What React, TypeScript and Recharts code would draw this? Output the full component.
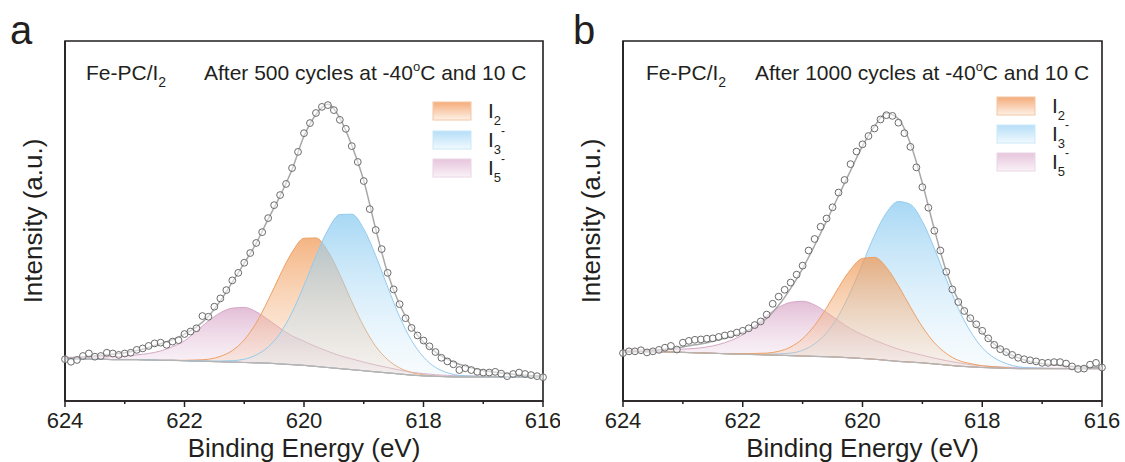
import React from "react";
import { Area, ComposedChart, Line, ReferenceArea, Scatter, XAxis, YAxis } from "recharts";

// binding energy grid of the fitted curves (eV)
const energyFit = [
  624, 623.8, 623.6, 623.4, 623.2, 623, 622.8, 622.6, 622.4, 622.2, 622, 621.8, 621.6, 621.4,
  621.2, 621, 620.8, 620.6, 620.4, 620.2, 620, 619.8, 619.6, 619.4, 619.2, 619, 618.8, 618.6,
  618.4, 618.2, 618, 617.8, 617.6, 617.4, 617.2, 617, 616.8, 616.6, 616.4, 616.2, 616,
];

// binding energy of the measured points (eV)
const energyScan = [
  624, 623.9, 623.8, 623.7, 623.6, 623.5, 623.4, 623.3, 623.2, 623.1, 623, 622.9, 622.8, 622.7,
  622.6, 622.5, 622.4, 622.3, 622.2, 622.1, 622, 621.9, 621.8, 621.7, 621.6, 621.5, 621.4, 621.3,
  621.2, 621.1, 621, 620.9, 620.8, 620.7, 620.6, 620.5, 620.4, 620.3, 620.2, 620.1, 620, 619.9,
  619.8, 619.7, 619.6, 619.5, 619.4, 619.3, 619.2, 619.1, 619, 618.9, 618.8, 618.7, 618.6, 618.5,
  618.4, 618.3, 618.2, 618.1, 618, 617.9, 617.8, 617.7, 617.6, 617.5, 617.4, 617.3, 617.2, 617.1,
  617, 616.9, 616.8, 616.7, 616.6, 616.5, 616.4, 616.3, 616.2, 616.1, 616,
];

const energyTicks = [624, 623, 622, 621, 620, 619, 618, 617, 616];

// ---- panel a : after 500 cycles ----
const baseA = [
  11.7, 11.7, 11.6, 11.6, 11.5, 11.5, 11.5, 11.4, 11.3, 11.3, 11.2, 11.1, 11.0, 10.9, 10.8, 10.7,
  10.6, 10.5, 10.3, 10.1, 9.9, 9.6, 9.3, 9.0, 8.7, 8.4, 8.1, 7.8, 7.5, 7.2, 7.0, 6.85, 6.75, 6.7,
  6.7, 6.7, 6.7, 6.7, 6.7, 6.7, 6.7,
];
const i2A = [
  0, 0, 0, 0, 0, 0, 0, 0, 0, 0, 0.1, 0.3, 0.6, 1.5, 3.2, 6.3, 11.1, 17.5, 24.7, 31.2, 35.3, 35.7,
  32.3, 26.1, 18.9, 12.3, 7.1, 3.7, 1.7, 0.7, 0.3, 0.1, 0, 0, 0, 0, 0, 0, 0, 0, 0,
];
const i3A = [
  0, 0, 0, 0, 0, 0, 0, 0, 0, 0, 0, 0, 0.1, 0.2, 0.4, 0.9, 2.2, 4.5, 8.5, 14.5, 22.2, 30.7, 38.2,
  42.8, 43.2, 39.4, 32.3, 23.9, 15.9, 9.6, 5.2, 2.5, 1.1, 0.4, 0.2, 0.1, 0, 0, 0, 0, 0,
];
const i5A = [
  0.4, 0.5, 0.6, 0.7, 0.8, 1.0, 1.3, 1.8, 2.6, 3.8, 5.5, 8.3, 11.2, 13.6, 15.0, 15.3, 14.2, 12.1,
  9.9, 8.0, 6.7, 5.5, 4.5, 3.6, 3.0, 2.4, 1.9, 1.5, 1.1, 0.8, 0.6, 0.45, 0.35, 0.3, 0.25, 0.2,
  0.15, 0.1, 0.1, 0.1, 0.1,
];
const fitA = [
  11.8, 12.0, 12.4, 12.7, 13.0, 13.4, 14.0, 14.9, 15.9, 17.0, 18.6, 20.6, 23.5, 27.8, 33.0, 38.3,
  43.8, 50.5, 57.0, 64.3, 73.6, 79.6, 82.4, 78.6, 71.0, 61.2, 47.8, 35.5, 26.8, 20.6, 16.3, 13.6,
  11.6, 10.2, 9.2, 8.5, 8.0, 7.6, 7.3, 7.1, 6.9,
];
const scanA = [
  11.6, 10.9, 11.4, 12.5, 13.2, 12.3, 12.5, 13.4, 13.2, 12.8, 13.2, 13.4, 14.2, 14.6, 15.3, 16.0,
  16.2, 15.6, 16.5, 16.9, 18.6, 19.3, 20.2, 23.6, 23.4, 26.2, 28.5, 30.8, 33.5, 35.6, 38.4, 41.1,
  43.9, 46.9, 50.8, 54.4, 57.2, 60.3, 64.7, 69.2, 74.4, 77.2, 80.0, 81.7, 82.2, 80.8, 78.1, 75.6,
  70.8, 66.4, 61.1, 53.3, 47.5, 42.2, 35.6, 31.0, 26.9, 23.0, 20.3, 18.2, 16.8, 15.2, 13.6, 12.0,
  11.0, 10.2, 8.6, 9.1, 8.6, 8.1, 7.9, 7.9, 8.1, 7.6, 6.9, 7.5, 7.9, 7.5, 7.2, 6.9, 6.6,
];

// ---- panel b : after 1000 cycles ----
const baseB = [
  13.8, 13.8, 13.7, 13.7, 13.6, 13.5, 13.4, 13.3, 13.2, 13.1, 13.0, 12.9, 12.8, 12.7, 12.6, 12.5,
  12.4, 12.3, 12.2, 12.0, 11.8, 11.6, 11.3, 11.0, 10.8, 10.6, 10.3, 10.0, 9.7, 9.5, 9.3, 9.2, 9.1,
  9.0, 9.0, 9.0, 9.0, 9.0, 9.0, 9.0, 9.0,
];
const i2B = [
  0, 0, 0, 0, 0, 0, 0, 0, 0, 0, 0.1, 0.3, 0.5, 1.1, 2.4, 4.8, 8.6, 13.6, 19.3, 24.5, 27.8, 28.3,
  25.8, 21.0, 15.3, 10.0, 5.9, 3.2, 1.6, 0.9, 0.5, 0.3, 0.1, 0, 0, 0, 0, 0, 0, 0, 0,
];
const i3B = [
  0, 0, 0, 0, 0, 0, 0, 0, 0, 0, 0, 0, 0.2, 0.4, 0.7, 1.6, 3.5, 6.6, 11.5, 18.3, 26.3, 34.4, 41.0,
  44.4, 43.8, 39.3, 32.1, 23.8, 16.0, 9.9, 5.5, 2.8, 1.3, 0.5, 0.2, 0.1, 0, 0, 0, 0, 0,
];
const i5B = [
  0.3, 0.4, 0.5, 0.6, 0.7, 0.9, 1.2, 1.7, 2.5, 3.7, 5.4, 8.0, 10.9, 13.3, 14.8, 15.2, 14.3, 12.3,
  10.1, 8.1, 6.6, 5.3, 4.3, 3.4, 2.7, 2.1, 1.6, 1.2, 0.9, 0.6, 0.45, 0.35, 0.3, 0.25, 0.2, 0.15,
  0.1, 0.1, 0.1, 0.1, 0.1,
];
const fitB = [
  13.6, 13.7, 13.9, 14.2, 14.5, 15.0, 15.6, 16.2, 17.0, 17.9, 19.0, 20.6, 23.0, 26.6, 31.3, 36.8,
  43.2, 50.0, 57.0, 64.0, 70.8, 76.3, 79.9, 78.4, 71.5, 60.5, 47.7, 36.0, 28.0, 22.8, 19.0, 15.8,
  13.5, 12.0, 11.0, 10.4, 10.0, 9.7, 9.5, 9.4, 9.3,
];
const scanB = [
  13.3, 13.8, 13.8, 14.1, 13.5, 13.8, 14.2, 14.8, 15.3, 14.3, 16.2, 16.7, 17.0, 17.1, 17.3, 17.4,
  17.8, 18.2, 18.5, 19.0, 19.5, 20.2, 21.1, 22.1, 24.0, 27.0, 29.0, 30.9, 32.9, 35.1, 37.6, 41.8,
  45.0, 48.4, 50.7, 53.8, 57.9, 61.4, 65.8, 69.3, 71.3, 73.6, 75.7, 78.2, 79.4, 79.2, 77.3, 74.4,
  70.6, 64.9, 59.4, 53.7, 47.3, 41.8, 35.9, 31.0, 27.5, 25.0, 23.0, 21.3, 19.5, 17.4, 15.6, 14.4,
  13.6, 12.8, 12.0, 11.6, 11.3, 11.0, 10.6, 10.6, 10.8, 10.8, 10.4, 9.6, 8.9, 9.0, 10.1, 10.6, 9.3,
];

const FONT = "'Liberation Sans', Arial, Helvetica, sans-serif";
const INK = "#231f20";

const COMP = {
  i2: { line: "#eea064", top: "#f09752", bottom: "#f8c9a3" },
  i3: { line: "#93cbee", top: "#86c9f1", bottom: "#d3ebf9" },
  i5: { line: "#d6a7c6", top: "#d8a5c7", bottom: "#eed7e6" },
};

const panels = [
  {
    id: "a", cycles: "500", left: 0, width: 560, axisW: 65, rightGap: 17, yLabelOffset: 33,
    noteX: 86, afterX: 204, legX: 433, legY: [102, 131, 159], labX: 488,
    base: baseA, i2: i2A, i3: i3A, i5: i5A, fit: fitA, scan: scanA,
    order: ["i5", "i2", "i3"] as const,
  },
  {
    id: "b", cycles: "1000", left: 560, width: 565, axisW: 63, rightGap: 23, yLabelOffset: 31,
    noteX: 646, afterX: 755, legX: 997, legY: [97, 125, 153], labX: 1052,
    base: baseB, i2: i2B, i3: i3B, i5: i5B, fit: fitB, scan: scanB,
    order: ["i5", "i3", "i2"] as const,
  },
];

type Panel = (typeof panels)[number];

function EnergyTick(props: any) {
  const { x, y, payload } = props;
  const major = payload.value % 2 === 0;
  return (
    <g>
      <line x1={x} y1={y} x2={x} y2={y + (major ? 6 : 3)} stroke={INK} strokeWidth={1.5} />
      {major && (
        <text x={x} y={y + 27} textAnchor="middle" fontSize={22} fontFamily={FONT} fill={INK}>
          {payload.value}
        </text>
      )}
    </g>
  );
}

function XpsPanel({ p }: { p: Panel }) {
  const comp = (h: number[]) => energyFit.map((e, i) => ({ e, v: [p.base[i], p.base[i] + h[i]] }));
  const curve = (v: number[]) => energyFit.map((e, i) => ({ e, v: v[i] }));
  const points = energyScan.map((e, i) => ({ e, v: p.scan[i] }));
  const heights = { i2: p.i2, i3: p.i3, i5: p.i5 };
  const axisStyle = { stroke: INK, strokeWidth: 1.6 };

  return (
    <div style={{ position: "absolute", left: p.left, top: 0 }}>
      <ComposedChart
        width={p.width}
        height={462}
        margin={{ top: 41, right: p.rightGap, bottom: 0, left: 0 }}
      >
        <defs>
          {(["i2", "i3", "i5"] as const).map((k) => (
            <linearGradient key={k} id={`fill-${p.id}-${k}`} x1="0" y1="0" x2="0" y2="1">
              <stop offset="0%" stopColor={COMP[k].top} stopOpacity={0.72} />
              <stop offset="100%" stopColor={COMP[k].bottom} stopOpacity={0.18} />
            </linearGradient>
          ))}
        </defs>
        <XAxis
          dataKey="e"
          type="number"
          domain={[616, 624]}
          reversed
          ticks={energyTicks}
          interval={0}
          height={61}
          tickSize={0}
          tickMargin={0}
          tickLine={false}
          axisLine={axisStyle}
          tick={(t: any) => <EnergyTick {...t} />}
          label={{
            value: "Binding Energy (eV)",
            position: "insideBottom",
            offset: 5.5,
            fill: INK,
            style: { fontSize: 26, fontFamily: FONT, fill: INK },
          }}
        />
        <YAxis
          type="number"
          domain={[0, 100]}
          width={p.axisW}
          tick={false}
          tickLine={false}
          axisLine={axisStyle}
          label={{
            value: "Intensity (a.u.)",
            angle: -90,
            position: "insideLeft",
            offset: p.yLabelOffset,
            fill: INK,
            style: { fontSize: 26, fontFamily: FONT, fill: INK, textAnchor: "middle" },
          }}
        />
        {/* frame: top and right edges of the plot box */}
        <ReferenceArea
          x1={616}
          x2={624}
          y1={0}
          y2={100}
          fill="none"
          stroke={INK}
          strokeWidth={1.6}
          ifOverflow="visible"
        />
        {p.order.map((k) => (
          <Area
            key={k}
            data={comp(heights[k])}
            dataKey="v"
            type="monotone"
            stroke={COMP[k].line}
            strokeWidth={1}
            fill={`url(#fill-${p.id}-${k})`}
            fillOpacity={1}
            dot={false}
            activeDot={false}
            isAnimationActive={false}
          />
        ))}
        <Line
          data={curve(p.base)}
          dataKey="v"
          type="monotone"
          stroke="#b4b4b4"
          strokeWidth={1.2}
          dot={false}
          activeDot={false}
          isAnimationActive={false}
        />
        <Line
          data={curve(p.fit)}
          dataKey="v"
          type="monotone"
          stroke="#a8a8a8"
          strokeWidth={1.5}
          dot={false}
          activeDot={false}
          isAnimationActive={false}
        />
        <Scatter
          data={points}
          dataKey="v"
          isAnimationActive={false}
          shape={(s: any) => (
            <circle cx={s.cx} cy={s.cy} r={3.4} fill="#ffffff" fillOpacity={0.5} stroke="#6b6b6b" strokeWidth={1} />
          )}
        />
      </ComposedChart>
    </div>
  );
}

const SWATCH = {
  i2: { top: "#f5ac7a", bottom: "#fdf1e7", edge: "#f4c6a2" },
  i3: { top: "#b6def8", bottom: "#f1f9fe", edge: "#cbe7f8" },
  i5: { top: "#e6c5dc", bottom: "#faf2f7", edge: "#ead6e4" },
};

function Notes() {
  return (
    <svg
      width={1125}
      height={462}
      style={{ position: "absolute", left: 0, top: 0, pointerEvents: "none" }}
      fontFamily={FONT}
      fill={INK}
    >
      <defs>
        {(["i2", "i3", "i5"] as const).map((k) => (
          <linearGradient key={k} id={`sw-${k}`} x1="0" y1="0" x2="0" y2="1">
            <stop offset="0%" stopColor={SWATCH[k].top} />
            <stop offset="100%" stopColor={SWATCH[k].bottom} />
          </linearGradient>
        ))}
      </defs>
      <text x={10} y={44} fontSize={40}>a</text>
      <text x={573} y={44} fontSize={40}>b</text>
      {panels.map((p) => (
        <g key={p.id}>
          <text x={p.noteX} y={80} fontSize={21}>
            Fe-PC/I<tspan dy={7} fontSize={14}>2</tspan>
          </text>
          <text x={p.afterX} y={80} fontSize={21}>
            {`After ${p.cycles} cycles at -40`}
            <tspan dy={-9} fontSize={13}>o</tspan>
            <tspan dy={9}>C and 10 C</tspan>
          </text>
          {(["i2", "i3", "i5"] as const).map((k, j) => {
            const y = p.legY[j];
            const sub = k === "i2" ? "2" : k === "i3" ? "3" : "5";
            return (
              <g key={k}>
                <rect
                  x={p.legX}
                  y={y}
                  width={38}
                  height={18}
                  fill={`url(#sw-${k})`}
                  stroke={SWATCH[k].edge}
                  strokeWidth={1}
                />
                <text x={p.labX} y={y + 16} fontSize={21}>
                  I<tspan dy={7} fontSize={13}>{sub}</tspan>
                  {k !== "i2" && <tspan dy={-19} fontSize={12}>-</tspan>}
                </text>
              </g>
            );
          })}
        </g>
      ))}
    </svg>
  );
}

export default function App() {
  return (
    <div style={{ position: "absolute", left: 0, top: 0, width: 1125, height: 462, background: "#fff" }}>
      {panels.map((p) => (
        <XpsPanel key={p.id} p={p} />
      ))}
      <Notes />
    </div>
  );
}
